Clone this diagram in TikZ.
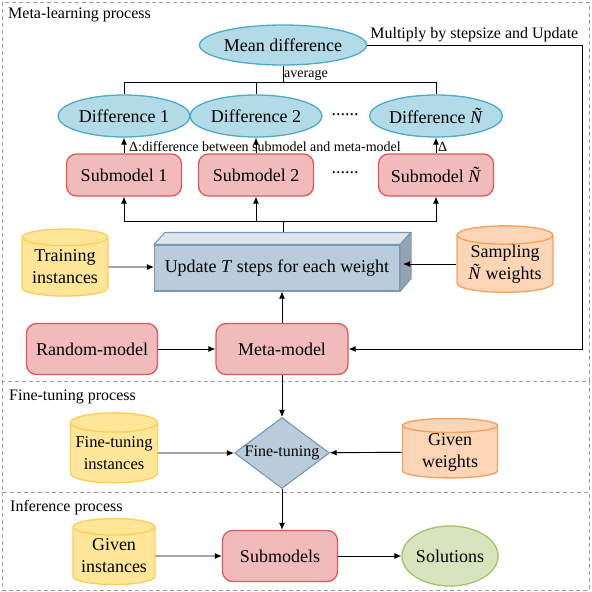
\documentclass[tikz,border=0pt]{standalone}
\usepackage{fontspec}
\setmainfont{Liberation Serif}
\usetikzlibrary{shapes.geometric,arrows.meta}
\definecolor{diffFill}{RGB}{178,218,231}
\definecolor{diffLine}{RGB}{75,172,198}
\definecolor{modelFill}{RGB}{242,187,187}
\definecolor{modelLine}{RGB}{222,88,88}
\definecolor{stepFill}{RGB}{184,204,220}
\definecolor{stepLine}{RGB}{120,152,180}
\definecolor{dataFill}{RGB}{255,230,153}
\definecolor{dataLine}{RGB}{255,205,85}
\definecolor{wgtFill}{RGB}{251,213,181}
\definecolor{wgtLine}{RGB}{247,160,90}
\definecolor{solFill}{RGB}{216,228,190}
\definecolor{solLine}{RGB}{165,195,100}

\begin{document}
\begin{tikzpicture}[x=1pt,y=-1pt,font=\fontsize{18}{22}\selectfont]
\tikzset{frame/.style ={draw=gray!75,dash pattern=on 4pt off 3pt,line width=0.8pt}}
\tikzset{title/.style ={anchor=west,inner sep=0pt,font=\fontsize{16}{18}\selectfont}}
\tikzset{line/.style ={draw=black,line width=0.9pt}}
\tikzset{arrow/.style ={line,-{Latex[length=7pt,width=6pt]}}}
\tikzset{diff/.style ={ellipse,draw=diffLine,fill=diffFill,line width=1.3pt,inner sep=0pt,
  minimum width=132pt,minimum height=42pt}}
\tikzset{model/.style ={rectangle,rounded corners=10pt,draw=modelLine,fill=modelFill,line width=1.3pt,
  minimum width=115pt,minimum height=42pt}}
\tikzset{data/.style ={cylinder,shape border rotate=90,aspect=0.25,draw=dataLine,fill=dataFill,
  line width=1.3pt,align=center,inner sep=0pt,minimum width=86pt,minimum height=67pt}}
\tikzset{small/.style ={inner sep=1pt,font=\fontsize{14}{16}\selectfont}}
\useasboundingbox (0,0) rectangle (592,592);
% frames
\draw[frame] (2,2) rectangle (589,381);
\draw[frame] (2,381) rectangle (589,492);
\draw[frame] (2,492) rectangle (589,590);
\node[title] (t1) at (8,15) {Meta-learning process};
\node[title] (t2) at (9,397) {Fine-tuning process};
\node[title] (t3) at (10,508) {Inference process};
% meta-learning
\node[diff,minimum width=160pt,minimum height=40pt] (mean) at (283,45) {Mean difference};
\node[diff] (d1) at (124,116) {Difference 1};
\node[diff] (d2) at (256,116) {Difference 2};
\node[diff,minimum width=133pt] (dn) at (436,116) {Difference \textit{Ñ}};
\node (dots1) at (345,115) {......};
\node[model] (s1) at (124,175) {Submodel 1};
\node[model] (s2) at (256,175) {Submodel 2};
\node[model] (sn) at (436,175) {Submodel \textit{Ñ}};
\node (dots2) at (345,173) {......};
\node[rectangle,draw=stepLine,fill=stepFill,line width=1.1pt,minimum width=245pt,minimum height=46pt]
  (upd) at (277,268) {Update \textit{T} steps for each weight};
\filldraw[draw=stepLine,fill=stepFill!50!white,line width=1.1pt,line join=round]
  (upd.north west) -- ++(11,-12) -- ([xshift=11pt,yshift=12pt]upd.north east) -- (upd.north east) -- cycle;
\filldraw[draw=stepLine,fill=stepFill!80!black,line width=1.1pt,line join=round]
  (upd.north east) -- ++(11,-12) -- ++(0,46) -- (upd.south east) -- cycle;
\node[data] (train) at (65,267) {Training\\instances};
\node[data,draw=wgtLine,fill=wgtFill,minimum width=96pt,minimum height=62pt] (samp) at (505,264) {Sampling\\\textit{Ñ} weights};
\node[model,minimum width=131pt,minimum height=51pt] (rand) at (92,349) {Random-model};
\node[model,minimum width=132pt,minimum height=51pt] (meta) at (282,349) {Meta-model};
% fine-tuning
\node[diamond,aspect=1.34,draw=stepLine,fill=stepFill,line width=1.1pt,inner sep=0pt,
  minimum width=95pt,minimum height=71pt,font=\fontsize{16}{18}\selectfont] (ft) at (282,453) {Fine-tuning};
\node[data,minimum width=87pt,minimum height=70pt,font=\fontsize{16.5}{22}\selectfont] (ftdata) at (114,453) {Fine-tuning\\instances};
\node[data,draw=wgtLine,fill=wgtFill,minimum width=95pt,minimum height=59pt] (given) at (450,452) {Given\\weights};
% inference
\node[data,minimum width=82pt,minimum height=66pt] (inst) at (114,556) {Given\\instances};
\node[model,minimum height=51pt] (subs) at (280,556) {Submodels};
\node[ellipse,draw=solLine,fill=solFill,line width=1.3pt,inner sep=0pt,minimum width=93pt,minimum height=60pt]
  (sol) at (450,556) {Solutions};
% connectors
\coordinate (avg) at (283,82);
\draw[line] (mean.south) -- (avg);
\draw[line] (avg) -| (d1.north);
\draw[line] (avg) -| (dn.north);
\draw[line] (d2.north |- avg) -- (d2.north);
\node[small,anchor=south west] (avglabel) at (avg) {average};
\draw[arrow] (s1) -- (d1);
\draw[arrow] (s2) -- (d2);
\draw[arrow] (sn) -- (dn);
\node[small,anchor=west] (delta) at (128,147) {Δ:difference between submodel and meta-model};
\node[small,anchor=west] (deltan) at (437,147) {Δ};
\coordinate (hub) at (283,221);
\draw[line] ([xshift=6pt,yshift=12pt]upd.north) -- (hub);
\draw[arrow] (hub) -| (s1.south);
\draw[arrow] (hub) -| (sn.south);
\draw[arrow] (s2.south |- hub) -- (s2.south);
\draw[arrow] (train) -- (train -| upd.west);
\draw[arrow] (samp.west) -- ([xshift=3pt]upd.east |- samp.west);
\draw[arrow] (rand) -- (meta);
\draw[arrow] (meta.north) -- (meta.north |- upd.south);
\coordinate (turn) at (582,45);
\draw[arrow] (mean.east) -- (turn) |- (meta.east);
\node[inner sep=3pt,anchor=south west,font=\fontsize{16}{18}\selectfont] (mult) at (mean.east) {Multiply by stepsize and Update};
\draw[arrow] (meta) -- (ft);
\draw[arrow] (ftdata) -- (ft);
\draw[arrow] (given) -- (ft);
\draw[arrow] (ft.south) -- (ft.south |- subs.north);
\draw[arrow] (inst) -- (subs);
\draw[arrow] (subs) -- (sol);
\end{tikzpicture}
\end{document}
